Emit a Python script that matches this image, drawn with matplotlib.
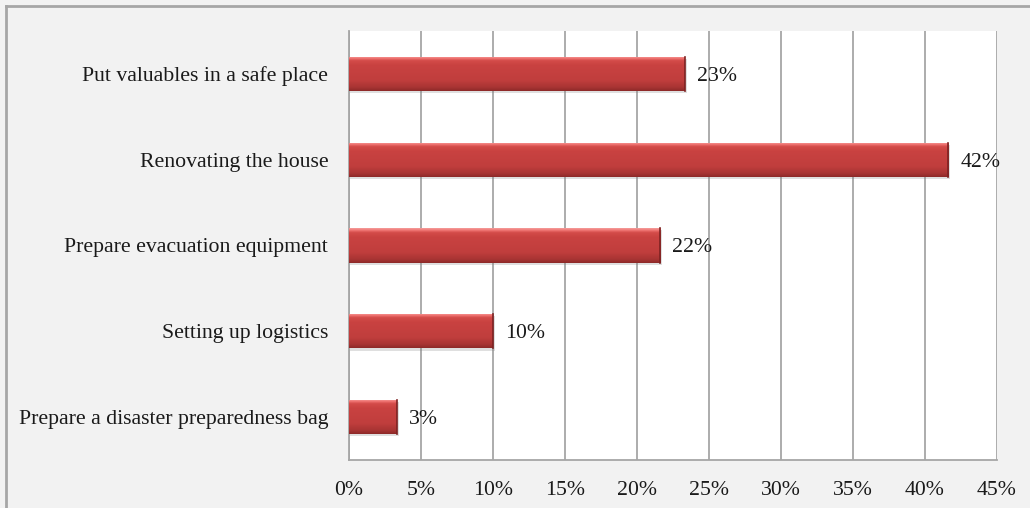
import numpy as np
import matplotlib
matplotlib.use('Agg')
import matplotlib.pyplot as plt
from matplotlib.colors import LinearSegmentedColormap
from matplotlib.lines import Line2D

# Données (du bas vers le haut)
categories = ['Prepare a disaster preparedness bag', 'Setting up logistics',
              'Prepare evacuation equipment', 'Renovating the house',
              'Put valuables in a safe place']
values = [3.3, 10.0, 21.6, 41.6, 23.3]
labels = ['3%', '10%', '22%', '42%', '23%']
xticks = [0, 5, 10, 15, 20, 25, 30, 35, 40, 45]

plt.rcParams['font.family'] = ['Liberation Serif', 'DejaVu Serif']
fs = 15.7

fig = plt.figure(figsize=(10.30, 5.08), dpi=100, facecolor='#f2f2f2')
ax = fig.add_axes([349 / 1030, 1 - 460 / 508, (997 - 349) / 1030, (460 - 31) / 508])
ax.set_facecolor('white')

# cadre extérieur (haut et gauche seulement, l'image est rognée)
fig.add_artist(Line2D([6 / 1030, 6 / 1030], [0, 1 - 6 / 508], transform=fig.transFigure,
                      color='#a6a6a6', lw=2))
fig.add_artist(Line2D([6 / 1030, 1], [1 - 6 / 508, 1 - 6 / 508], transform=fig.transFigure,
                      color='#a6a6a6', lw=2))

y = np.arange(len(categories))
h = 0.4

# ombre
ax.barh(y - 0.025, [v + 0.1 for v in values], height=h, color='#808080', alpha=0.25,
        zorder=2, left=0.05)
bars = ax.barh(y, values, height=h, color='#c0403f', zorder=3)

cmap = LinearSegmentedColormap.from_list('bev', [
    (0.0, '#8e2a29'), (0.1, '#a83433'), (0.3, '#c03e3d'), (0.75, '#c94241'),
    (0.88, '#d44c4a'), (0.94, '#ef7371'), (1.0, '#f49a98')])
grad = np.linspace(0, 1, 64).reshape(-1, 1)
for b in bars:
    x0, y0 = b.get_x(), b.get_y()
    im = ax.imshow(grad, extent=[x0, x0 + b.get_width(), y0, y0 + b.get_height()],
                   origin='lower', cmap=cmap, aspect='auto', zorder=4)
    im.set_clip_path(b)
    # bord droit plus sombre
    ax.plot([x0 + b.get_width()] * 2, [y0, y0 + b.get_height()], color='#7d2222',
            lw=1.2, zorder=5)

for yi, v, lab in zip(y, values, labels):
    ax.text(v + 0.85, yi, lab, va='center_baseline', ha='left', fontsize=fs,
            color='#1a1a1a', zorder=6)

ax.set_xlim(0, 45)
ax.set_ylim(-0.5, len(categories) - 0.5)
ax.set_xticks(xticks)
ax.set_xticklabels([f'{t}%' for t in xticks], fontsize=fs, color='#1a1a1a')
ax.set_yticks(y)
ax.set_yticklabels(categories, fontsize=fs, color='#1a1a1a')
ax.tick_params(axis='both', length=0)
ax.tick_params(axis='x', pad=15)
ax.tick_params(axis='y', pad=15)
ax.xaxis.grid(True, color='#a6a6a6', lw=1.3, zorder=1)
ax.set_axisbelow(True)
for s in ['top', 'right']:
    ax.spines[s].set_visible(False)
for s in ['left', 'bottom']:
    ax.spines[s].set_color('#a6a6a6')
    ax.spines[s].set_linewidth(1.3)

fig.savefig('out.png', dpi=100, facecolor=fig.get_facecolor())
